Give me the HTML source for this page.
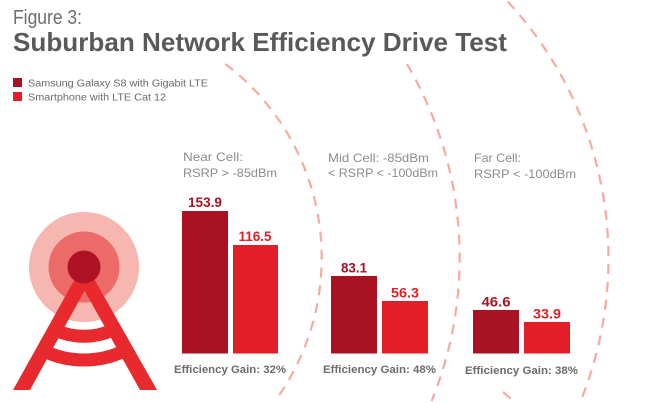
<!DOCTYPE html>
<html><head><meta charset="utf-8"><style>
html,body{margin:0;padding:0;background:#fff;width:650px;height:403px;overflow:hidden;}
svg{display:block;}
text{font-family:"Liberation Sans",sans-serif;}
</style></head><body>
<svg width="650" height="403" viewBox="0 0 650 403" xmlns="http://www.w3.org/2000/svg">
<rect width="650" height="403" fill="#fff"/>
<!-- dashed arcs -->
<g fill="none" stroke="#f6aaa2" stroke-width="2.2" stroke-dasharray="10 8">
<path d="M 225.3 64 A 243 243 0 0 1 275 401"/>
<path d="M 406.9 64 A 381 381 0 0 1 431.6 401"/>
<path d="M 507.6 1.5 A 378 378 0 0 1 580.6 401"/>
<line x1="503" y1="392" x2="511" y2="399"/>
</g>
<!-- title -->
<text x="13" y="24" font-size="20" fill="#6e6e70" textLength="69" lengthAdjust="spacingAndGlyphs">Figure 3:</text>
<text x="13" y="51" font-size="26" font-weight="bold" fill="#58595b" textLength="494" lengthAdjust="spacingAndGlyphs">Suburban Network Efficiency Drive Test</text>
<!-- legend -->
<rect x="13" y="78" width="9" height="9" fill="#a91222"/>
<rect x="13" y="92" width="9" height="9" fill="#e21e26"/>
<text x="28" y="86.5" font-size="10" fill="#6a6a6a" textLength="180" lengthAdjust="spacingAndGlyphs">Samsung Galaxy S8 with Gigabit LTE</text>
<text x="28" y="100.5" font-size="10" fill="#6a6a6a" textLength="138" lengthAdjust="spacingAndGlyphs">Smartphone with LTE Cat 12</text>
<!-- subtitles -->
<g font-size="12" fill="#8c8c8c">
<text x="183" y="161" textLength="60" lengthAdjust="spacingAndGlyphs">Near Cell:</text>
<text x="183" y="177" textLength="94" lengthAdjust="spacingAndGlyphs">RSRP &gt; -85dBm</text>
<text x="328" y="162" textLength="101" lengthAdjust="spacingAndGlyphs">Mid Cell: -85dBm</text>
<text x="328" y="177" textLength="110" lengthAdjust="spacingAndGlyphs">&lt; RSRP &lt; -100dBm</text>
<text x="474" y="162" textLength="47" lengthAdjust="spacingAndGlyphs">Far Cell:</text>
<text x="474" y="178" textLength="102" lengthAdjust="spacingAndGlyphs">RSRP &lt; -100dBm</text>
</g>
<!-- bars -->
<rect x="182" y="211" width="46" height="142.5" fill="#a91222"/>
<rect x="233" y="245" width="45" height="108.5" fill="#e21e26"/>
<rect x="331" y="276" width="46" height="77.5" fill="#a91222"/>
<rect x="382" y="301" width="46" height="52.5" fill="#e21e26"/>
<rect x="473" y="310" width="46" height="43.5" fill="#a91222"/>
<rect x="524" y="322" width="46" height="31.5" fill="#e21e26"/>
<!-- values -->
<g font-size="14" font-weight="bold" text-anchor="middle">
<text x="205" y="207" fill="#a91222" textLength="34" lengthAdjust="spacingAndGlyphs">153.9</text>
<text x="255" y="241" fill="#e21e26" textLength="33" lengthAdjust="spacingAndGlyphs">116.5</text>
<text x="354" y="272.5" fill="#a91222" textLength="26" lengthAdjust="spacingAndGlyphs">83.1</text>
<text x="405" y="297.5" fill="#e21e26" textLength="28" lengthAdjust="spacingAndGlyphs">56.3</text>
<text x="496" y="306.5" fill="#a91222" textLength="29" lengthAdjust="spacingAndGlyphs">46.6</text>
<text x="547" y="318.5" fill="#e21e26" textLength="28" lengthAdjust="spacingAndGlyphs">33.9</text>
</g>
<!-- efficiency -->
<g font-size="11" font-weight="bold" fill="#6b6b6d">
<text x="174" y="373" textLength="112" lengthAdjust="spacingAndGlyphs">Efficiency Gain: 32%</text>
<text x="323" y="373" textLength="113" lengthAdjust="spacingAndGlyphs">Efficiency Gain: 48%</text>
<text x="465" y="374" textLength="113" lengthAdjust="spacingAndGlyphs">Efficiency Gain: 38%</text>
</g>
<!-- tower -->
<circle cx="84" cy="267" r="55" fill="#f6b7b0"/>
<circle cx="84" cy="267" r="35.5" fill="#ec6a67"/>
<polygon points="13,390 30,390 92,277 76,277" fill="#e8292d"/>
<polygon points="140,390 157,390 93,277 77,277" fill="#e8292d"/>
<g fill="none" stroke="#e8292d" stroke-width="13">
<path d="M 55 330 A 70 70 0 0 0 113 330"/>
<path d="M 43 350.5 A 93 93 0 0 0 125 350.5"/>
</g>
<circle cx="84" cy="267" r="16.5" fill="#ae1224"/>
</svg>
</body></html>
